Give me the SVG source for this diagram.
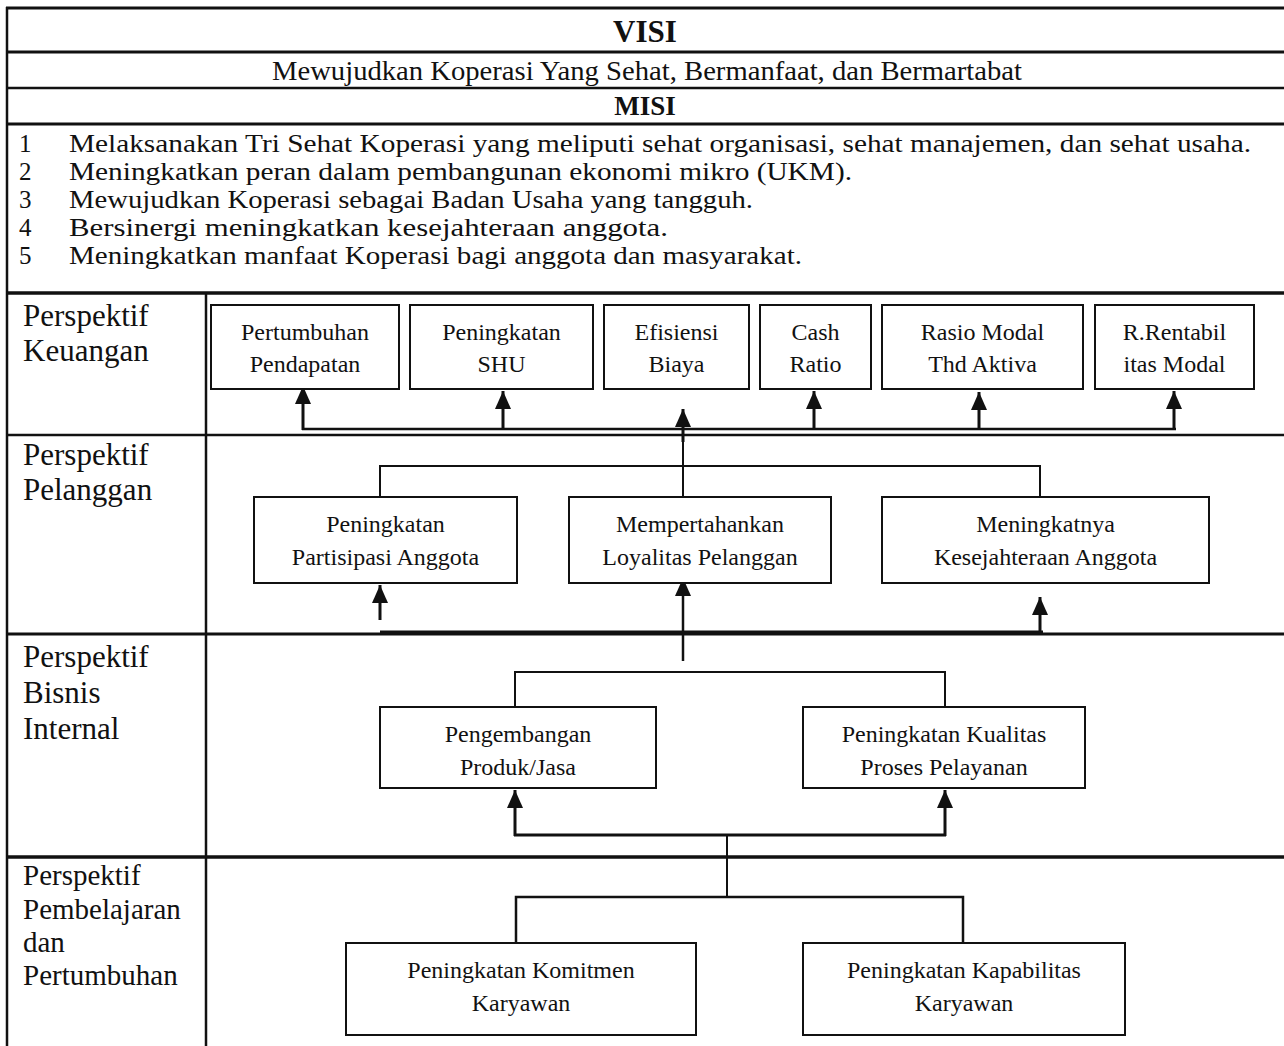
<svg xmlns="http://www.w3.org/2000/svg" width="1284" height="1046" viewBox="0 0 1284 1046">
<style>
  .t{font-family:"Liberation Serif","Times New Roman",serif;fill:#111}
  .hd{font-size:28px}
  .ms{font-size:25px}
  .bold{font-weight:bold}
  .lab{font-size:31px}
  .lab2{font-size:29px}
  .bx{font-size:24px;text-anchor:middle}
  .box{fill:#fff;stroke:#111;stroke-width:2}
  .grid{stroke:#111;fill:none}
  .c{stroke:#111;fill:none}
</style>
<defs>
  <marker id="ah" markerUnits="userSpaceOnUse" markerWidth="18" markerHeight="16" refX="18" refY="8" orient="auto">
    <path d="M0,0 L18,8 L0,16 z" fill="#111"/>
  </marker>
</defs>
<rect width="1284" height="1046" fill="#fff"/>

<g id="table">
  <line class="grid" x1="7" y1="7" x2="7" y2="1046" stroke-width="2.5"/>
  <line class="grid" x1="206" y1="293" x2="206" y2="1046" stroke-width="2.5"/>
  <line class="grid" x1="6" y1="8" x2="1284" y2="8" stroke-width="3"/>
  <line class="grid" x1="6" y1="52" x2="1284" y2="52" stroke-width="3"/>
  <line class="grid" x1="6" y1="88" x2="1284" y2="88" stroke-width="2.5"/>
  <line class="grid" x1="6" y1="124" x2="1284" y2="124" stroke-width="3"/>
  <line class="grid" x1="6" y1="293" x2="1284" y2="293" stroke-width="3.5"/>
  <line class="grid" x1="6" y1="435" x2="1284" y2="435" stroke-width="2.5"/>
  <line class="grid" x1="6" y1="634" x2="1284" y2="634" stroke-width="3"/>
  <line class="grid" x1="6" y1="857" x2="1284" y2="857" stroke-width="3.5"/>
</g>

<g id="visi">
  <text class="t bold" x="645" y="42" font-size="31" text-anchor="middle">VISI</text>
  <text class="t hd" x="647" y="80" text-anchor="middle" textLength="750" lengthAdjust="spacingAndGlyphs">Mewujudkan Koperasi Yang Sehat, Bermanfaat, dan Bermartabat</text>
</g>

<g id="misi">
  <text class="t bold" x="645" y="115" font-size="27" text-anchor="middle">MISI</text>
  <text class="t ms" x="19" y="152">1</text>
  <text class="t ms" x="69" y="152" textLength="1182" lengthAdjust="spacingAndGlyphs">Melaksanakan Tri Sehat Koperasi yang meliputi sehat organisasi, sehat manajemen, dan sehat usaha.</text>
  <text class="t ms" x="19" y="180">2</text>
  <text class="t ms" x="69" y="180" textLength="783" lengthAdjust="spacingAndGlyphs">Meningkatkan peran dalam pembangunan ekonomi mikro (UKM).</text>
  <text class="t ms" x="19" y="208">3</text>
  <text class="t ms" x="69" y="208" textLength="684" lengthAdjust="spacingAndGlyphs">Mewujudkan Koperasi sebagai Badan Usaha yang tangguh.</text>
  <text class="t ms" x="19" y="236">4</text>
  <text class="t ms" x="69" y="236" textLength="599" lengthAdjust="spacingAndGlyphs">Bersinergi meningkatkan kesejahteraan anggota.</text>
  <text class="t ms" x="19" y="264">5</text>
  <text class="t ms" x="69" y="264" textLength="733" lengthAdjust="spacingAndGlyphs">Meningkatkan manfaat Koperasi bagi anggota dan masyarakat.</text>
</g>

<g id="label-keuangan">
  <text class="t lab" x="23" y="326">Perspektif</text>
  <text class="t lab" x="23" y="361">Keuangan</text>
</g>
<g id="label-pelanggan">
  <text class="t lab" x="23" y="465">Perspektif</text>
  <text class="t lab" x="23" y="500">Pelanggan</text>
</g>
<g id="label-bisnis">
  <text class="t lab" x="23" y="667">Perspektif</text>
  <text class="t lab" x="23" y="703">Bisnis</text>
  <text class="t lab" x="23" y="739">Internal</text>
</g>
<g id="label-pembelajaran">
  <text class="t lab2" x="23" y="885">Perspektif</text>
  <text class="t lab2" x="23" y="919">Pembelajaran</text>
  <text class="t lab2" x="23" y="952">dan</text>
  <text class="t lab2" x="23" y="985">Pertumbuhan</text>
</g>

<g id="connectors">
  <!-- Keuangan -->
  <line class="c" x1="302" y1="429" x2="1176" y2="429" stroke-width="2.5"/>
  <line class="c" x1="303" y1="430" x2="303" y2="386" stroke-width="3" marker-end="url(#ah)"/>
  <line class="c" x1="503" y1="430" x2="503" y2="391" stroke-width="3" marker-end="url(#ah)"/>
  <line class="c" x1="814" y1="430" x2="814" y2="391" stroke-width="3" marker-end="url(#ah)"/>
  <line class="c" x1="979" y1="430" x2="979" y2="392" stroke-width="3" marker-end="url(#ah)"/>
  <line class="c" x1="1174" y1="430" x2="1174" y2="391" stroke-width="3" marker-end="url(#ah)"/>
  <line class="c" x1="683" y1="497" x2="683" y2="440" stroke-width="2"/>
  <line class="c" x1="683" y1="442" x2="683" y2="409" stroke-width="3" marker-end="url(#ah)"/>
  <!-- Pelanggan -->
  <polyline class="c" points="380,497 380,466 1040,466 1040,497" stroke-width="2"/>
  <line class="c" x1="380" y1="620" x2="380" y2="585" stroke-width="3" marker-end="url(#ah)"/>
  <line class="c" x1="683" y1="661" x2="683" y2="578" stroke-width="2.5" marker-end="url(#ah)"/>
  <line class="c" x1="1040" y1="633" x2="1040" y2="597" stroke-width="3" marker-end="url(#ah)"/>
  <line class="c" x1="380" y1="632" x2="1043" y2="632" stroke-width="3"/>
  <!-- Bisnis -->
  <polyline class="c" points="515,707 515,672 945,672 945,707" stroke-width="2"/>
  <line class="c" x1="515" y1="836" x2="515" y2="790" stroke-width="3" marker-end="url(#ah)"/>
  <line class="c" x1="945" y1="836" x2="945" y2="790" stroke-width="3" marker-end="url(#ah)"/>
  <line class="c" x1="514" y1="835" x2="946" y2="835" stroke-width="3"/>
  <line class="c" x1="727" y1="835" x2="727" y2="897" stroke-width="2"/>
  <!-- Pembelajaran -->
  <polyline class="c" points="516,943 516,897 963,897 963,943" stroke-width="2.5"/>
</g>

<g id="n-pertumbuhan">
  <rect class="box" x="211" y="305" width="188" height="84"/>
  <text class="t bx" x="305" y="340">Pertumbuhan</text>
  <text class="t bx" x="305" y="372">Pendapatan</text>
</g>
<g id="n-shu">
  <rect class="box" x="410" y="305" width="183" height="84"/>
  <text class="t bx" x="501.5" y="340">Peningkatan</text>
  <text class="t bx" x="501.5" y="372">SHU</text>
</g>
<g id="n-efisiensi">
  <rect class="box" x="604" y="305" width="145" height="84"/>
  <text class="t bx" x="676.5" y="340">Efisiensi</text>
  <text class="t bx" x="676.5" y="372">Biaya</text>
</g>
<g id="n-cash">
  <rect class="box" x="760" y="305" width="111" height="84"/>
  <text class="t bx" x="815.5" y="340">Cash</text>
  <text class="t bx" x="815.5" y="372">Ratio</text>
</g>
<g id="n-rasio">
  <rect class="box" x="882" y="305" width="201" height="84"/>
  <text class="t bx" x="982.5" y="340">Rasio Modal</text>
  <text class="t bx" x="982.5" y="372">Thd Aktiva</text>
</g>
<g id="n-rentabilitas">
  <rect class="box" x="1095" y="305" width="159" height="84"/>
  <text class="t bx" x="1174.5" y="340">R.Rentabil</text>
  <text class="t bx" x="1174.5" y="372">itas Modal</text>
</g>

<g id="n-partisipasi">
  <rect class="box" x="254" y="497" width="263" height="86"/>
  <text class="t bx" x="385.5" y="532">Peningkatan</text>
  <text class="t bx" x="385.5" y="565">Partisipasi Anggota</text>
</g>
<g id="n-loyalitas">
  <rect class="box" x="569" y="497" width="262" height="86"/>
  <text class="t bx" x="700" y="532">Mempertahankan</text>
  <text class="t bx" x="700" y="565">Loyalitas Pelanggan</text>
</g>
<g id="n-kesejahteraan">
  <rect class="box" x="882" y="497" width="327" height="86"/>
  <text class="t bx" x="1045.5" y="532">Meningkatnya</text>
  <text class="t bx" x="1045.5" y="565">Kesejahteraan Anggota</text>
</g>

<g id="n-produk">
  <rect class="box" x="380" y="707" width="276" height="81"/>
  <text class="t bx" x="518" y="742">Pengembangan</text>
  <text class="t bx" x="518" y="775">Produk/Jasa</text>
</g>
<g id="n-kualitas">
  <rect class="box" x="803" y="707" width="282" height="81"/>
  <text class="t bx" x="944" y="742">Peningkatan Kualitas</text>
  <text class="t bx" x="944" y="775">Proses Pelayanan</text>
</g>

<g id="n-komitmen">
  <rect class="box" x="346" y="943" width="350" height="92"/>
  <text class="t bx" x="521" y="978">Peningkatan Komitmen</text>
  <text class="t bx" x="521" y="1011">Karyawan</text>
</g>
<g id="n-kapabilitas">
  <rect class="box" x="803" y="943" width="322" height="92"/>
  <text class="t bx" x="964" y="978">Peningkatan Kapabilitas</text>
  <text class="t bx" x="964" y="1011">Karyawan</text>
</g>
</svg>
